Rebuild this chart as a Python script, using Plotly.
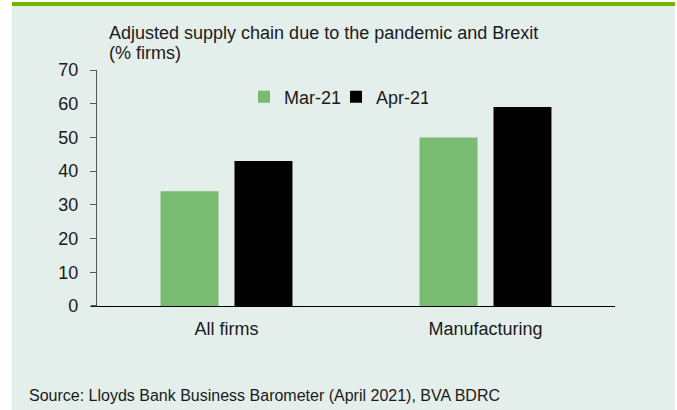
import plotly.graph_objects as go

categories = ["All firms", "Manufacturing"]
series_names = ["Mar-21", "Apr-21"]
mar21 = [34, 50]
apr21 = [43, 59]
y_ticks = [0, 10, 20, 30, 40, 50, 60, 70]

W, H = 677, 410
L, R, T, B = 97, 62, 70, 104
pw, ph = W - L - R, H - T - B

def px(x):
    return (x - L) / pw

def py(y):
    return (H - B - y) / ph

FONT = "Liberation Sans, Arial, sans-serif"
BG = "#e4eeea"

fig = go.Figure()
fig.add_trace(go.Bar(x=categories, y=mar21, name=series_names[0],
                     marker=dict(color="#78bb71", line=dict(width=0))))
fig.add_trace(go.Bar(x=categories, y=apr21, name=series_names[1],
                     marker=dict(color="#000000", line=dict(width=0))))

fig.update_layout(
    width=W, height=H,
    margin=dict(l=L, r=R, t=T, b=B, pad=0),
    paper_bgcolor="white",
    plot_bgcolor=BG,
    font=dict(family=FONT, size=18, color="#1a1a1a"),
    barmode="group",
    bargap=0.429,
    bargroupgap=0.216,
    showlegend=True,
    legend=dict(orientation="h", x=px(244), xanchor="left", y=py(97), yanchor="middle",
                bgcolor="rgba(0,0,0,0)", font=dict(size=18), itemwidth=30,
                entrywidth=47, entrywidthmode="pixels",
                traceorder="normal"),
    shapes=[
        dict(type="rect", xref="paper", yref="paper", x0=px(12), x1=px(675), y0=py(410), y1=py(6),
             fillcolor=BG, line=dict(width=0), layer="below"),
        dict(type="rect", xref="paper", yref="paper", x0=px(12), x1=px(675), y0=py(6), y1=py(2),
             fillcolor="#76b400", line=dict(width=0), layer="below"),
        dict(type="line", xref="paper", yref="paper", x0=px(91), x1=px(97), y0=0, y1=0,
             line=dict(color="#000000", width=1.3)),
    ],
    annotations=[
        dict(text="Adjusted supply chain due to the pandemic and Brexit", xref="paper", yref="paper",
             x=px(107), y=py(33), xanchor="left", yanchor="middle", showarrow=False,
             font=dict(size=18, color="#1a1a1a")),
        dict(text="(% firms)", xref="paper", yref="paper",
             x=px(107), y=py(53), xanchor="left", yanchor="middle", showarrow=False,
             font=dict(size=18, color="#1a1a1a")),
        dict(text="Source: Lloyds Bank Business Barometer (April 2021), BVA BDRC", xref="paper", yref="paper",
             x=px(27), y=py(395), xanchor="left", yanchor="middle", showarrow=False,
             font=dict(size=16, color="#1a1a1a")),
    ],
)

fig.update_xaxes(showgrid=False, zeroline=False, showline=True, linecolor="#000000", linewidth=1.3,
                 ticks="", ticklabelstandoff=6, tickfont=dict(size=18, color="#1a1a1a"))
fig.update_yaxes(range=[0, 70], tickvals=y_ticks, showgrid=False, zeroline=False,
                 showline=True, linecolor="#595959", linewidth=1.3,
                 ticks="outside", ticklen=6, tickcolor="#595959", tickwidth=1.3,
                 ticklabelstandoff=8, tickfont=dict(size=18, color="#1a1a1a"))

fig.write_html("out.html")
